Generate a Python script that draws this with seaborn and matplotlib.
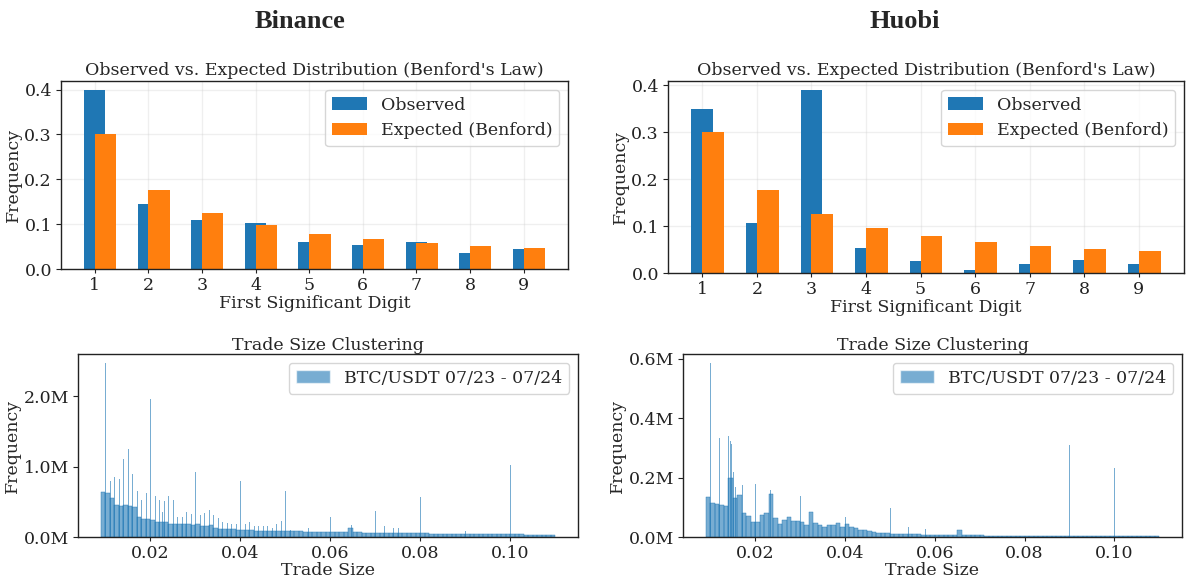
import numpy as np
import pandas as pd
import matplotlib
matplotlib.use("Agg")
import matplotlib.pyplot as plt
from matplotlib.patches import Patch
from matplotlib.ticker import FuncFormatter, MultipleLocator
import seaborn as sns

# --- Benford panels ---
digits = [1, 2, 3, 4, 5, 6, 7, 8, 9]
benford_expected = [0.301, 0.176, 0.125, 0.097, 0.079, 0.067, 0.058, 0.051, 0.046]
binance_observed = [0.399, 0.145, 0.109, 0.103, 0.061, 0.054, 0.061, 0.036, 0.045]
huobi_observed = [0.349, 0.107, 0.390, 0.054, 0.026, 0.007, 0.020, 0.027, 0.020]

# --- trade size histograms (counts in millions) ---
# base level per 0.001 bucket, from 0.009 up to 0.110
binance_base = [
    0.64, 0.63, 0.56, 0.46, 0.44, 0.45, 0.44, 0.43, 0.28, 0.26,
    0.26, 0.24, 0.22, 0.21, 0.22, 0.19, 0.19, 0.18, 0.18, 0.18,
    0.17, 0.18, 0.16, 0.15, 0.17, 0.125, 0.12, 0.115, 0.11, 0.11,
    0.105, 0.10, 0.095, 0.093, 0.092, 0.090, 0.090, 0.088, 0.087, 0.086,
    0.085, 0.083, 0.082, 0.080, 0.080, 0.078, 0.077, 0.076, 0.075, 0.074,
    0.073, 0.072, 0.071, 0.070, 0.070, 0.130, 0.066, 0.065, 0.064, 0.063,
    0.062, 0.060, 0.060, 0.059, 0.058, 0.057, 0.056, 0.055, 0.054, 0.053,
    0.052, 0.050, 0.050, 0.049, 0.048, 0.047, 0.046, 0.046, 0.045, 0.044,
    0.044, 0.043, 0.042, 0.042, 0.041, 0.040, 0.040, 0.039, 0.039, 0.038,
    0.038, 0.037, 0.036, 0.036, 0.035, 0.035, 0.034, 0.034, 0.034, 0.033,
    0.033,
]
binance_spike_size = [
    0.0100, 0.0110, 0.0120, 0.0130, 0.0140, 0.0150, 0.0160, 0.0170, 0.0180, 0.0190,
    0.0200, 0.0210, 0.0220, 0.0225, 0.0230, 0.0240, 0.0250, 0.0260, 0.0270, 0.0280,
    0.0290, 0.0300, 0.0310, 0.0320, 0.0330, 0.0340, 0.0350, 0.0360, 0.0370, 0.0380,
    0.0390, 0.0400, 0.0410, 0.0420, 0.0430, 0.0440, 0.0450, 0.0460, 0.0470, 0.0480,
    0.0490, 0.0500, 0.0510, 0.0550, 0.0600, 0.0645, 0.0700, 0.0720, 0.0740, 0.0750,
    0.0800, 0.0900, 0.1000,
]
binance_spike_count = [
    2.48, 0.80, 0.85, 0.82, 1.11, 1.25, 0.89, 0.65, 0.53, 0.62,
    1.97, 0.58, 0.53, 0.36, 0.51, 0.58, 0.53, 0.29, 0.29, 0.36,
    0.33, 0.92, 0.32, 0.34, 0.39, 0.32, 0.27, 0.22, 0.20, 0.19,
    0.18, 0.80, 0.19, 0.22, 0.15, 0.16, 0.15, 0.15, 0.125, 0.19,
    0.23, 0.65, 0.10, 0.125, 0.29, 0.17, 0.37, 0.15, 0.125, 0.125,
    0.57, 0.08, 1.03,
]

huobi_base = [
    0.135, 0.113, 0.110, 0.107, 0.104, 0.200, 0.130, 0.140, 0.080, 0.070,
    0.052, 0.052, 0.075, 0.080, 0.145, 0.063, 0.043, 0.058, 0.069, 0.055,
    0.054, 0.052, 0.041, 0.085, 0.046, 0.041, 0.035, 0.039, 0.041, 0.046,
    0.035, 0.045, 0.035, 0.030, 0.025, 0.022, 0.020, 0.016, 0.015, 0.013,
    0.012, 0.011, 0.011, 0.010, 0.010, 0.009, 0.009, 0.009, 0.008, 0.008,
    0.008, 0.008, 0.007, 0.007, 0.007, 0.007, 0.022, 0.006, 0.006, 0.006,
    0.006, 0.006, 0.005, 0.005, 0.005, 0.005, 0.005, 0.005, 0.005, 0.004,
    0.004, 0.004, 0.004, 0.004, 0.004, 0.004, 0.004, 0.004, 0.004, 0.003,
    0.003, 0.003, 0.003, 0.003, 0.003, 0.003, 0.003, 0.003, 0.003, 0.003,
    0.003, 0.003, 0.003, 0.003, 0.003, 0.003, 0.003, 0.003, 0.003, 0.003,
    0.003,
]
huobi_spike_size = [
    0.0100, 0.0120, 0.0140, 0.0144, 0.0147, 0.0150, 0.0155, 0.0170, 0.0200, 0.0230,
    0.0234, 0.0250, 0.0300, 0.0400, 0.0425, 0.0500, 0.0540, 0.0578, 0.0800, 0.0900,
    0.1000,
]
huobi_spike_count = [
    0.587, 0.332, 0.340, 0.323, 0.314, 0.220, 0.170, 0.176, 0.180, 0.190,
    0.158, 0.100, 0.138, 0.069, 0.046, 0.096, 0.033, 0.028, 0.100, 0.311,
    0.234,
]

sns.set_theme(style="ticks")
plt.rcParams.update({
    "font.family": ["DejaVu Serif"],
    "font.size": 12.5,
    "axes.titlesize": 12.5,
    "axes.labelsize": 12.5,
    "xtick.labelsize": 12.5,
    "ytick.labelsize": 12.5,
    "legend.fontsize": 12.5,
    "axes.axisbelow": True,
    "axes.edgecolor": "#222222",
    "axes.linewidth": 1.0,
    "axes.labelpad": 3,
    "xtick.color": "#222222",
    "ytick.color": "#222222",
    "xtick.major.size": 3.0,
    "ytick.major.size": 3.5,
    "xtick.major.width": 0.8,
    "ytick.major.width": 0.8,
    "xtick.major.pad": 2.5,
    "ytick.major.pad": 3.0,
})

W, H = 1187, 581
fig = plt.figure(figsize=(W / 100, H / 100), dpi=100)


def box(x0, y0, x1, y1):
    return [x0 / W, 1 - y1 / H, (x1 - x0) / W, (y1 - y0) / H]


def benford(ax, observed):
    x = np.array(digits)
    ax.bar(x, observed, width=0.4, color="tab:blue", linewidth=0, label="Observed")
    ax.bar(x + 0.2, benford_expected, width=0.4, color="tab:orange", linewidth=0,
           label="Expected (Benford)")
    ax.set_xticks(digits)
    ax.set_title("Observed vs. Expected Distribution (Benford's Law)", pad=4)
    ax.set_xlabel("First Significant Digit", labelpad=1)
    ax.set_ylabel("Frequency", labelpad=2)
    ax.grid(alpha=0.3)
    ax.legend(loc="upper right")


def clustering(ax, base, spike_x, spike_y, step):
    edges = [round(0.009 + 0.001 * i, 4) for i in range(len(base) + 1)]
    base_df = pd.DataFrame({"size": [e + 0.0005 for e in edges[:-1]],
                            "count": [b * 1e6 for b in base]})
    sns.histplot(data=base_df, x="size", weights="count", bins=edges, ax=ax,
                 color="tab:blue", alpha=0.6, edgecolor="tab:blue", linewidth=0.3)
    fine = [round(0.009 + 0.0002 * i, 4) for i in range(506)]
    spike_df = pd.DataFrame({"size": [s + 0.0001 for s in spike_x],
                             "count": [c * 1e6 for c in spike_y]})
    sns.histplot(data=spike_df, x="size", weights="count", bins=fine, ax=ax,
                 color="tab:blue", alpha=0.6, linewidth=0)
    ax.yaxis.set_major_locator(MultipleLocator(step))
    ax.yaxis.set_major_formatter(FuncFormatter(lambda v, p: f"{v / 1e6:.1f}M"))
    ax.set_title("Trade Size Clustering", pad=2)
    ax.set_xlabel("Trade Size", labelpad=0)
    ax.set_ylabel("Frequency", labelpad=2)
    handle = Patch(facecolor="tab:blue", alpha=0.6, label="BTC/USDT 07/23 - 07/24")
    ax.legend(handles=[handle], loc="upper right")


ax1 = fig.add_axes(box(61, 81, 568, 269))
benford(ax1, binance_observed)
ax2 = fig.add_axes(box(668, 81, 1184, 273))
benford(ax2, huobi_observed)
ax3 = fig.add_axes(box(78, 354, 578, 537))
clustering(ax3, binance_base, binance_spike_size, binance_spike_count, 1e6)
ax4 = fig.add_axes(box(683, 354, 1182, 537))
clustering(ax4, huobi_base, huobi_spike_size, huobi_spike_count, 2e5)

fig.text(300 / W, 1 - 22 / H, "Binance", family="Liberation Serif", weight="bold",
         size=19, ha="center", va="center")
fig.text(905 / W, 1 - 22 / H, "Huobi", family="Liberation Serif", weight="bold",
         size=19, ha="center", va="center")

fig.savefig("out.png", dpi=100, facecolor="white")
